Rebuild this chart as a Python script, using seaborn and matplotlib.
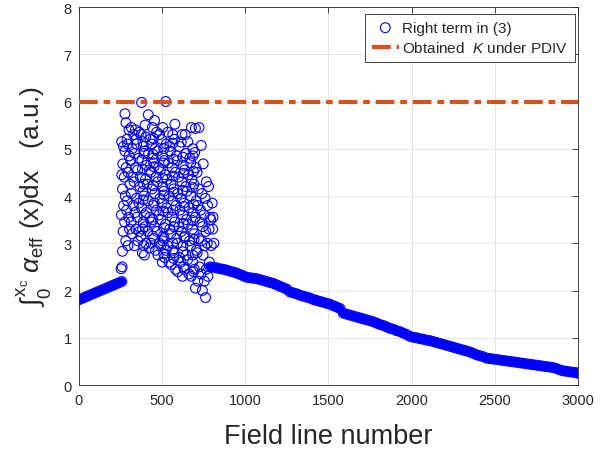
import numpy as np
import pandas as pd
import seaborn as sns
import matplotlib
matplotlib.use("Agg")
import matplotlib.pyplot as plt

# ---------------- data ----------------
# smooth part before the scattered region
seg1_x = [0, 20, 40, 60, 80, 100, 120, 140, 160, 180, 200, 220, 240, 260]
seg1_y = [1.80, 1.83, 1.86, 1.89, 1.92, 1.95, 1.98, 2.01, 2.04, 2.07, 2.10, 2.13, 2.16, 2.19]

# smooth part after the scattered region
seg2_x = [790, 810, 830, 850, 870, 890, 910, 930, 950, 970, 990,
          1010, 1030, 1050, 1070, 1090, 1110, 1130, 1150, 1170, 1190,
          1210, 1230, 1250, 1270, 1290, 1310, 1330, 1350, 1370, 1390,
          1410, 1430, 1450, 1470, 1490, 1510, 1530, 1550, 1570, 1590,
          1610, 1630, 1650, 1670, 1690, 1710, 1730, 1750, 1770, 1790,
          1810, 1830, 1850, 1870, 1890, 1910, 1930, 1950, 1970, 1990,
          2010, 2030, 2050, 2070, 2090, 2110, 2130, 2150, 2170, 2190,
          2210, 2230, 2250, 2270, 2290, 2310, 2330, 2350, 2370, 2390,
          2410, 2430, 2450, 2470, 2490, 2510, 2530, 2550, 2570, 2590,
          2610, 2630, 2650, 2670, 2690, 2710, 2730, 2750, 2770, 2790,
          2810, 2830, 2850, 2870, 2890, 2910, 2930, 2950, 2970, 2990, 3000]
seg2_y = [2.50, 2.49, 2.48, 2.46, 2.45, 2.43, 2.41, 2.39, 2.37, 2.34, 2.31,
          2.28, 2.27, 2.26, 2.25, 2.23, 2.21, 2.19, 2.17, 2.15, 2.12,
          2.09, 2.06, 2.03, 1.97, 1.95, 1.93, 1.90, 1.88, 1.86, 1.84,
          1.81, 1.79, 1.77, 1.75, 1.73, 1.71, 1.68, 1.65, 1.62, 1.52,
          1.50, 1.48, 1.46, 1.44, 1.42, 1.40, 1.38, 1.36, 1.34, 1.31,
          1.28, 1.26, 1.23, 1.20, 1.18, 1.15, 1.13, 1.10, 1.07, 1.03,
          1.01, 1.00, 0.98, 0.97, 0.95, 0.94, 0.92, 0.90, 0.88, 0.86,
          0.84, 0.82, 0.80, 0.78, 0.76, 0.74, 0.72, 0.70, 0.67, 0.64,
          0.62, 0.60, 0.57, 0.56, 0.55, 0.54, 0.53, 0.52, 0.51, 0.50,
          0.49, 0.48, 0.47, 0.46, 0.45, 0.44, 0.43, 0.42, 0.41, 0.40,
          0.39, 0.38, 0.37, 0.35, 0.32, 0.30, 0.29, 0.28, 0.27, 0.26, 0.25]

# scattered region, read point by point (x lists parallel to y lists)
cloud_x = [
    [256, 264],
    [262, 268, 258, 271, 264, 260, 266, 270, 259],
    [284, 277, 289, 281, 275, 286, 279, 291, 285, 279],
    [297, 306, 301, 293, 309, 298, 304, 295, 303],
    [324, 316, 329, 318, 326, 313, 322, 331, 317],
    [336, 345, 339, 348, 334, 343, 337, 346, 341],
    [357, 366, 352, 363, 369, 355, 361, 350, 364],
    [384, 375, 389, 378, 386, 372, 381, 390, 376, 379],
    [392, 385, 395, 388, 391, 384, 394, 387],
    [396, 405, 399, 408, 393, 402, 409, 397, 404, 400],
    [424, 416, 428, 419, 413, 426, 421, 430, 419],
    [436, 445, 438, 449, 442, 434, 447, 440, 444],
    [452, 446, 455, 449, 453, 447, 451],
    [463, 455, 468, 458, 466, 452, 461, 469, 457],
    [477, 486, 472, 483, 489, 475, 481, 474, 487],
    [503, 496, 509, 494, 501, 507, 492, 505, 498, 506],
    [511, 506, 514, 508, 513, 505, 510, 512],
    [517, 526, 514, 523, 529, 512, 521, 515, 527, 524],
    [544, 535, 548, 538, 546, 532, 541, 549, 536],
    [556, 565, 553, 562, 568, 555, 563, 552, 566],
    [571, 566, 574, 568, 573, 565, 570, 567],
    [583, 575, 589, 578, 586, 572, 581, 588, 576, 579],
    [597, 606, 594, 603, 609, 596, 601, 593, 605],
    [624, 615, 628, 618, 626, 613, 621, 629, 617, 622],
    [631, 626, 634, 628, 633, 625, 630, 627],
    [636, 645, 638, 648, 633, 644, 637, 646, 641],
    [663, 655, 667, 658, 665, 652, 661, 669, 656],
    [677, 686, 673, 684, 689, 675, 681, 674, 687, 678],
    [691, 686, 694, 688, 693, 685, 690, 687],
    [703, 696, 708, 694, 701, 707, 693, 705, 698, 702],
    [717, 726, 713, 723, 729, 715, 721, 712, 724],
    [744, 736, 748, 738, 745, 733, 741, 749, 737],
    [763, 756, 767, 759, 765, 753, 761, 768],
    [777, 786, 773, 784, 789, 775, 781],
    [797, 806, 794, 803],
    [813, 808],
]
cloud_y = [
    [2.46, 2.83],
    [2.50, 3.25, 3.60, 3.80, 4.15, 4.45, 4.68, 5.05, 5.15],
    [3.05, 3.45, 3.70, 4.00, 4.40, 4.60, 4.95, 5.20, 5.55, 5.74],
    [2.95, 3.30, 3.55, 3.90, 4.25, 4.50, 4.85, 5.10, 5.40],
    [3.20, 3.45, 3.80, 4.05, 4.40, 4.75, 5.00, 5.30, 5.45],
    [2.95, 3.30, 3.65, 3.95, 4.30, 4.60, 4.90, 5.20, 5.40],
    [3.05, 3.25, 3.55, 3.85, 4.20, 4.55, 4.80, 5.10, 5.35],
    [2.80, 3.15, 3.45, 3.75, 4.10, 4.40, 4.75, 5.05, 5.30, 5.98],
    [2.95, 3.30, 3.60, 3.92, 4.25, 4.57, 4.90, 5.15],
    [2.75, 3.00, 3.35, 3.65, 4.00, 4.35, 4.65, 4.95, 5.25, 5.50],
    [2.90, 3.25, 3.55, 3.90, 4.25, 4.55, 4.90, 5.20, 5.72],
    [3.00, 3.15, 3.45, 3.80, 4.15, 4.50, 4.80, 5.10, 5.45],
    [3.10, 3.50, 3.85, 4.22, 4.62, 4.88, 5.22],
    [2.85, 3.35, 3.70, 4.05, 4.40, 4.70, 5.00, 5.35, 5.60],
    [2.75, 3.00, 3.25, 3.60, 3.95, 4.30, 4.60, 4.95, 5.30],
    [2.60, 2.95, 3.15, 3.50, 3.85, 4.20, 4.55, 4.85, 5.20, 5.45],
    [2.78, 3.05, 3.33, 3.68, 4.02, 4.38, 4.70, 5.00],
    [2.70, 2.85, 3.10, 3.40, 3.75, 4.10, 4.45, 4.75, 5.10, 6.00],
    [2.60, 2.95, 3.30, 3.65, 4.00, 4.35, 4.70, 5.05, 5.35],
    [2.55, 2.85, 3.20, 3.55, 3.90, 4.25, 4.60, 4.95, 5.30],
    [2.68, 3.00, 3.35, 3.70, 4.08, 4.42, 4.78, 5.12],
    [2.45, 2.80, 3.10, 3.45, 3.80, 4.15, 4.50, 4.85, 5.20, 5.52],
    [2.40, 2.70, 3.00, 3.35, 3.70, 4.05, 4.40, 4.75, 5.05],
    [2.30, 2.60, 2.95, 3.25, 3.60, 3.95, 4.30, 4.65, 5.14, 5.30],
    [2.50, 2.82, 3.12, 3.42, 3.78, 4.12, 4.48, 4.82],
    [2.45, 2.75, 3.15, 3.50, 3.85, 4.20, 4.55, 4.90, 5.30],
    [2.35, 2.65, 3.05, 3.40, 3.75, 4.10, 4.45, 4.80, 5.15],
    [2.30, 2.60, 2.95, 3.30, 3.65, 4.00, 4.35, 4.70, 5.00, 5.45],
    [2.40, 2.75, 3.08, 3.48, 3.82, 4.18, 4.52, 4.85],
    [2.05, 2.45, 2.85, 3.20, 3.55, 3.90, 4.25, 4.60, 4.92, 5.43],
    [2.20, 2.50, 2.80, 3.10, 3.45, 3.80, 4.15, 4.50, 5.45],
    [2.00, 2.35, 2.75, 3.05, 3.35, 3.70, 4.05, 4.68, 5.07],
    [1.85, 2.20, 2.45, 2.95, 3.25, 3.60, 3.95, 4.30],
    [2.30, 2.60, 3.00, 3.30, 3.55, 3.80, 4.20],
    [2.95, 3.30, 3.50, 3.85],
    [3.00, 3.55],
]

K_value = 6.0

series_label = "Right term in (3)"
k_label = "Obtained  $K$ under PDIV"
x_ticks = [0, 500, 1000, 1500, 2000, 2500, 3000]
y_ticks = [0, 1, 2, 3, 4, 5, 6, 7, 8]

# ---------------- table ----------------
cx = [x for xs in cloud_x for x in xs]
cy = [y for ys in cloud_y for y in ys]
df = pd.DataFrame({
    "x": list(seg1_x) + cx + list(seg2_x),
    "y": list(seg1_y) + cy + list(seg2_y),
})

# ---------------- style ----------------
sns.set_theme(style="white")
plt.rcParams["font.family"] = ["Liberation Sans", "DejaVu Sans"]
plt.rcParams["mathtext.fontset"] = "custom"
plt.rcParams["mathtext.rm"] = "Liberation Sans"
plt.rcParams["mathtext.it"] = "Liberation Sans:italic"
plt.rcParams["mathtext.bf"] = "Liberation Sans:bold"

BLUE = (0, 0, 1)
ORANGE = (0.851, 0.325, 0.098)
AX_COL = "#262626"

fig = plt.figure(figsize=(6.09, 4.52), dpi=100)
ax = fig.add_axes([0.1289, 0.1460, 0.8202, 0.8363])

# dense bands (the points are spaced very closely in the original)
sns.lineplot(x=seg1_x, y=seg1_y, color=BLUE, lw=6.2, ax=ax,
             estimator=None, sort=False, legend=False, label="_nolegend_")
sns.lineplot(x=seg2_x, y=seg2_y, color=BLUE, lw=6.2, ax=ax,
             estimator=None, sort=False, legend=False, label="_nolegend_")

sns.scatterplot(data=df, x="x", y="y", marker="o", s=50,
                facecolor="none", edgecolor=BLUE, linewidth=0.8,
                ax=ax, label=series_label, zorder=3)

ax.axhline(K_value, color=ORANGE, lw=3.0, dashes=(4.5, 1.4, 1.6, 1.4),
           label=k_label, zorder=4)

ax.set_xlim(0, 3000)
ax.set_ylim(0, 8)
ax.set_xticks(x_ticks)
ax.set_yticks(y_ticks)
ax.set_xticklabels([str(t) for t in x_ticks])
ax.set_yticklabels([str(t) for t in y_ticks])

ax.grid(True, color="#e4e4e4", lw=0.7)
ax.set_axisbelow(True)
for s in ax.spines.values():
    s.set_visible(True)
    s.set_color(AX_COL)
    s.set_linewidth(0.6)

ax.tick_params(direction="in", length=4, width=0.6, top=True, right=True,
               labelsize=10.5, colors=AX_COL, pad=5)
ax.tick_params(axis="x", pad=6)

ax.set_xlabel("Field line number", fontsize=19.5, color=AX_COL, labelpad=11)
ax.set_ylabel(r"$\int_0^{\mathrm{x}_{\mathrm{c}}}\ \alpha_{\mathrm{eff}}$ (x)dx   (a.u.)",
              fontsize=19, color=AX_COL, labelpad=7)

handles, labels = ax.get_legend_handles_labels()
leg = ax.legend(handles, labels, loc="upper right", bbox_to_anchor=(0.993, 0.982),
                borderaxespad=0, fontsize=11, frameon=True, fancybox=False,
                edgecolor=AX_COL, framealpha=1, handlelength=1.8,
                handletextpad=0.2, borderpad=0.45, labelspacing=0.35)
leg.get_frame().set_linewidth(0.6)

fig.savefig("out.png", dpi=100)
